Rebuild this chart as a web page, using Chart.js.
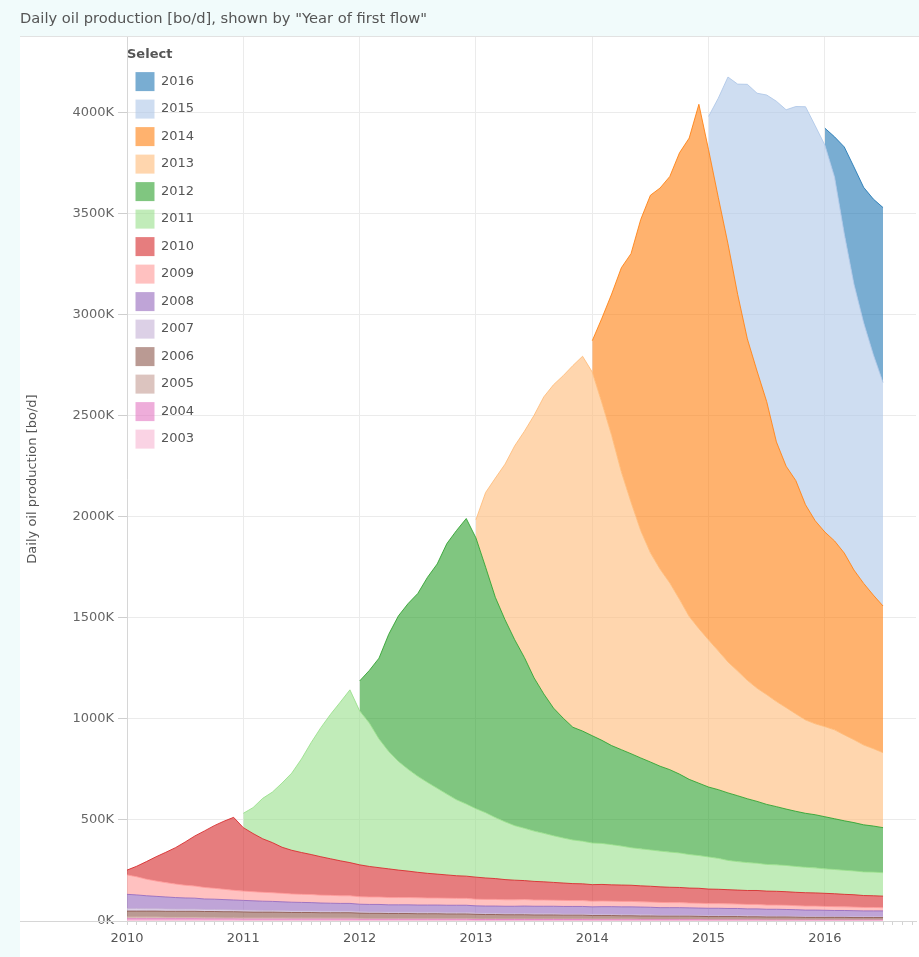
<!DOCTYPE html>
<html>
<head>
<meta charset="utf-8">
<title>Daily oil production by year of first flow</title>
<script src="https://cdn.jsdelivr.net/npm/chart.js@4.4.1/dist/chart.umd.min.js"></script>
<style>
  html, body { margin: 0; padding: 0; }
  body { width: 919px; height: 957px; background: #f1fbfb; position: relative; overflow: hidden; }
  #panel { position: absolute; left: 20px; top: 36px; width: 899px; height: 921px; background: #fff; border-top: 1px solid #e2e2e2; box-sizing: border-box; }
  #chart { position: absolute; left: 0; top: 0; }
</style>
</head>
<body>
<div id="panel"></div>
<canvas id="chart" width="919" height="957"></canvas>
<script>
// Monthly values from Jan 2010 to Jul 2016, thousand bo/d.
// Cohorts from 2010 on start in January of their own year.
const FIRST_YEAR = 2010;
const YEAR_LABELS = ["2010", "2011", "2012", "2013", "2014", "2015", "2016"];
const Y_TICKS = [0, 500, 1000, 1500, 2000, 2500, 3000, 3500, 4000];

const prod2003 = [5,5,5,5,5,5,5,5,5,5,5,5, 4,4,4,4,4,4,4,4,4,4,4,4, 4,4,4,4,4,4,4,4,4,4,4,4,
  3,3,3,3,3,3,3,3,3,3,3,3, 3,3,3,3,3,3,3,3,3,3,3,3, 2,2,2,2,2,2,2,2,2,2,2,2, 2,2,2,2,2,2,2];
const prod2004 = [6,6,6,6,6,6,6,6,5,5,5,5, 5,5,5,5,5,5,5,5,5,5,5,5, 4,4,4,4,4,4,4,4,4,4,4,4,
  4,4,4,4,4,4,4,4,4,4,4,4, 3,3,3,3,3,3,3,3,3,3,3,3, 3,3,3,3,3,3,2,2,2,2,2,2, 2,2,2,2,2,2,2];
const prod2005 = [10,10,10,10,9,9,9,9,9,9,8,8, 8,8,8,8,8,7,7,7,7,7,7,7, 7,6,6,6,6,6,6,6,6,6,6,6,
  6,5,5,5,5,5,5,5,5,5,5,5, 5,5,5,5,5,4,4,4,4,4,4,4, 4,4,4,4,4,4,4,4,4,4,3,3, 3,3,3,3,3,3,3];
const prod2006 = [28,28,28,28,28,28,28,28,28,28,28,28, 28,27,27,27,26,26,26,26,25,25,25,25,
  24,24,24,23,23,23,22,22,22,21,21,21, 20,20,20,19,19,19,18,18,18,17,17,17,
  16,16,16,15,15,15,15,14,14,14,14,13, 13,13,13,13,12,12,12,12,12,11,11,11, 11,11,11,10,10,10,10];
const prod2007 = [13,13,12,12,12,11,11,11,10,10,10,9, 9,9,8,8,8,8,8,8,8,8,8,8, 7,7,7,7,7,7,7,7,7,7,7,7,
  6,6,6,6,6,6,6,6,6,6,6,6, 6,6,6,6,6,6,6,5,5,5,5,5, 5,5,5,5,5,5,5,5,5,5,5,5, 5,4,4,4,4,4,4];
const prod2008 = [70,67,64,61,59,57,55,54,52,51,50,49, 48,47,46,45,44,43,42,41,40,39,38,38,
  37,37,37,36,36,36,36,36,36,36,36,36, 36,36,36,36,36,37,37,37,37,37,37,37,
  37,38,38,38,38,38,37,37,37,37,36,36, 36,36,35,35,34,34,33,33,32,32,31,31, 30,30,30,30,29,29,29];
const prod2009 = [96,90,82,76,71,67,63,60,57,54,51,48, 46,45,44,43,42,41,40,40,39,39,38,38,
  37,37,37,36,36,36,36,35,35,35,34,34, 33,33,33,32,32,32,31,31,30,30,29,29,
  28,28,27,27,27,26,26,26,25,25,24,24, 23,23,23,22,22,22,21,21,21,20,20,20, 19,19,18,18,17,17,16];
const prod2010 = [24,52,87,120,150,180,214,248,280,310,337,361, 314,288,265,248,228,216,207,198,190,181,173,164,
  158,151,145,142,136,131,126,122,118,115,112,110, 109,106,103,100,97,94,92,90,88,86,84,83,
  82,82,81,81,80,79,78,77,76,75,74,74, 72,71,70,69,69,69,69,68,67,66,66,65, 65,64,62,61,59,58,57];
const prod2011 = [71,128,200,250,318,382,463,554,639,715,785,855, 762,710,637,581,538,504,475,450,425,400,376,357,
  339,323,302,286,270,259,249,240,231,223,216,211, 206,203,199,193,186,183,180,177,174,171,166,162,
  159,153,145,141,138,135,132,131,130,128,126,124, 121,120,119,118,117,117,116];
const prod2012 = [148,260,400,580,720,820,905,1015,1110,1240,1333,1413,
  1340,1215,1090,1000,920,845,758,690,632,593,558,545, 531,510,490,477,465,450,435,420,408,390,372,358,
  346,340,334,326,316,306,297,288,279,273,267,263, 258,251,245,239,233,228,223];
const prod2013 = [90,370,590,770,960,1120,1300,1470,1600,1695,1790,1855,
  1800,1670,1535,1375,1245,1125,1035,975,924,865,806,765, 728,687,648,617,586,560,543,520,502,482,462,450,
  446,440,425,410,395,383,371];
const prod2014 = [155,420,700,1010,1230,1540,1770,1887,2012,2210,2368,2595,
  2426,2245,2070,1865,1690,1570,1450,1285,1195,1155,1065,1005, 963,935,900,840,800,760,726];
const prod2015 = [165,490,825,1040,1260,1375,1518,1686,1764,1851,1970,1955, 1915,1800,1580,1415,1290,1190,1106];
const prod2016 = [84,200,430,580,670,770,866];

// Tableau 20 colours, bottom of the stack first
const COHORTS = [
  { year: 2003, values: prod2003, rgb: "247,182,210" },
  { year: 2004, values: prod2004, rgb: "227,119,194" },
  { year: 2005, values: prod2005, rgb: "196,156,148" },
  { year: 2006, values: prod2006, rgb: "140,86,75" },
  { year: 2007, values: prod2007, rgb: "197,176,213" },
  { year: 2008, values: prod2008, rgb: "148,103,189" },
  { year: 2009, values: prod2009, rgb: "255,152,150" },
  { year: 2010, values: prod2010, rgb: "214,39,40" },
  { year: 2011, values: prod2011, rgb: "152,223,138" },
  { year: 2012, values: prod2012, rgb: "44,160,44" },
  { year: 2013, values: prod2013, rgb: "255,187,120" },
  { year: 2014, values: prod2014, rgb: "255,127,14" },
  { year: 2015, values: prod2015, rgb: "174,199,232" },
  { year: 2016, values: prod2016, rgb: "31,119,180" },
];

const FONT = '"DejaVu Sans", Verdana, sans-serif';
Chart.defaults.font.family = FONT;
Chart.defaults.font.size = 13;
Chart.defaults.color = "#666";

const toPoints = (values, year) => {
  const start = Math.max(0, (year - FIRST_YEAR) * 12);
  return values.map((v, i) => ({ x: start + i, y: v }));
};

const DATASETS = COHORTS.map((c, i) => ({
  label: String(c.year),
  data: toPoints(c.values, c.year),
  fill: i === 0 ? "origin" : "-1",
  backgroundColor: `rgba(${c.rgb},0.6)`,
  borderColor: `rgba(${c.rgb},0.85)`,
  borderWidth: 1,
  pointRadius: 0,
  pointHoverRadius: 0,
  tension: 0,
}));

// bottom axis line runs on to the left edge of the panel
const axisLinePlugin = {
  id: "axisLine",
  afterDraw(chart) {
    const { ctx, chartArea, scales } = chart;
    ctx.save();
    ctx.strokeStyle = "#d6d6d6";
    ctx.lineWidth = 1;
    ctx.beginPath();
    ctx.moveTo(scales.y.left, Math.round(chartArea.bottom) + 0.5);
    ctx.lineTo(chartArea.left, Math.round(chartArea.bottom) + 0.5);
    ctx.stroke();
    ctx.restore();
  },
};

const CONFIG = {
  type: "line",
  data: { datasets: DATASETS },
  options: {
    responsive: false,
    animation: false,
    layout: { padding: { left: 20, right: 3, top: 0, bottom: 0 } },
    plugins: {
      title: {
        display: true,
        text: 'Daily oil production [bo/d], shown by "Year of first flow"',
        align: "start",
        color: "#555",
        font: { family: FONT, size: 14.7, weight: "normal" },
        padding: { top: 10, bottom: 9.4 },
      },
      legend: {
        // a vertical chartArea legend is laid out from the canvas top,
        // so the title padding carries it down below the chart title
        position: "chartArea",
        align: "start",
        reverse: true,
        title: {
          display: true,
          text: "Select",
          position: "start",
          color: "#555",
          font: { family: FONT, size: 13, weight: "bold" },
          padding: { top: 48, bottom: 0 },
        },
        labels: {
          boxWidth: 19,
          boxHeight: 19,
          padding: 8.5,
          color: "#555",
          font: { family: FONT, size: 13 },
          generateLabels: (chart) =>
            Chart.defaults.plugins.legend.labels.generateLabels(chart).map((l) => ({ ...l, lineWidth: 0 })),
        },
      },
      tooltip: { enabled: false },
    },
    scales: {
      x: {
        type: "linear",
        min: 0,
        max: 81.4,
        afterBuildTicks: (axis) => {
          const ticks = [];
          for (let m = 0; m <= Math.floor(axis.max); m++) ticks.push({ value: m });
          axis.ticks = ticks;
        },
        afterFit: (axis) => { axis.height = 36; },
        border: { color: "#d6d6d6" },
        grid: {
          color: (ctx) => (ctx.tick && ctx.tick.value % 12 === 0 ? "#ebebeb" : "rgba(0,0,0,0)"),
          tickColor: "#d3d3d3",
          tickLength: 4,
        },
        ticks: {
          autoSkip: false,
          maxRotation: 0,
          padding: 6,
          color: "#555",
          callback: (v) => (v % 12 === 0 ? YEAR_LABELS[v / 12] : ""),
        },
      },
      y: {
        stacked: true,
        min: 0,
        max: 4375,
        afterBuildTicks: (axis) => { axis.ticks = Y_TICKS.map((v) => ({ value: v })); },
        afterFit: (axis) => { axis.width = 107; },
        border: { color: "#d6d6d6" },
        grid: { color: "#ebebeb", tickColor: "#cfcfcf", tickLength: 9 },
        ticks: { padding: 4, color: "#666", callback: (v) => v + "K" },
        title: {
          display: true,
          text: "Daily oil production [bo/d]",
          color: "#555",
          font: { family: FONT, size: 13 },
          padding: { top: 5, bottom: 0 },
        },
      },
    },
  },
  plugins: [axisLinePlugin],
};

new Chart(document.getElementById("chart"), CONFIG);
</script>
</body>
</html>
